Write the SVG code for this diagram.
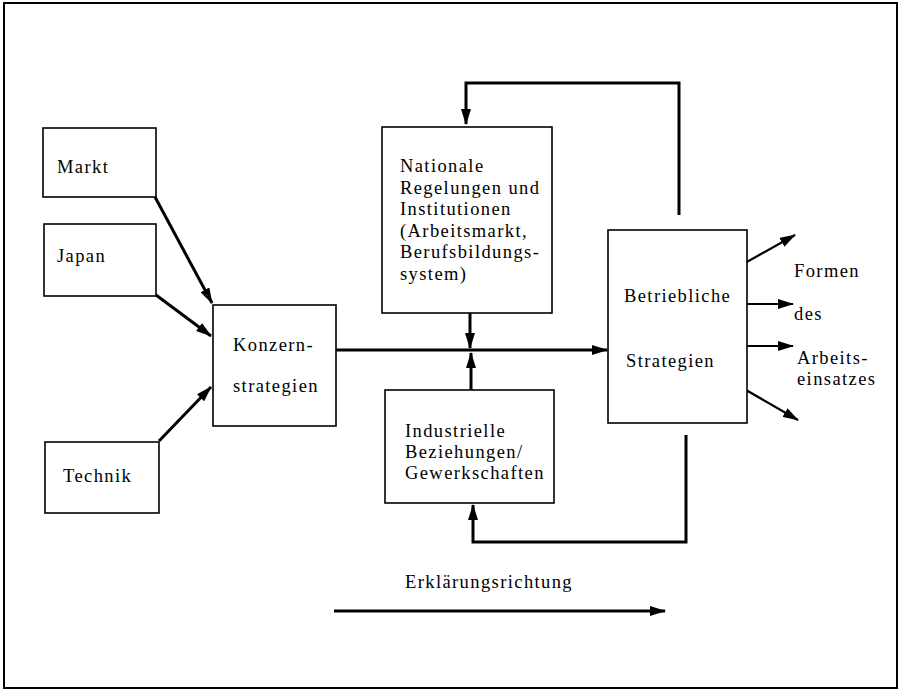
<svg xmlns="http://www.w3.org/2000/svg" width="899" height="691" viewBox="0 0 899 691">
<defs>
<marker id="ah" markerWidth="16" markerHeight="10" refX="15" refY="5" orient="auto" markerUnits="userSpaceOnUse">
<path d="M0,0 L16,5 L0,10 Z" fill="#000"/>
</marker>
<style>
.box{fill:#fff;stroke:#000;stroke-width:1.6}
.t{font-family:"Liberation Serif","Times New Roman",serif;font-size:18.5px;letter-spacing:1.4px;fill:#000}
.c{fill:none;stroke:#000;stroke-width:3}
.o{fill:none;stroke:#000;stroke-width:2.2}
</style>
</defs>
<rect x="0" y="0" width="899" height="691" fill="#fff"/>
<rect x="4" y="3" width="893" height="685" fill="none" stroke="#000" stroke-width="2"/>

<g id="connectors">
<line class="c" x1="155" y1="197" x2="212" y2="303" marker-end="url(#ah)"/>
<line class="c" x1="156" y1="295" x2="211" y2="336" marker-end="url(#ah)"/>
<line class="c" x1="159" y1="441" x2="211" y2="387" marker-end="url(#ah)"/>
<line class="c" x1="336" y1="350" x2="607" y2="350" marker-end="url(#ah)"/>
<line class="c" x1="470" y1="313" x2="470" y2="348" marker-end="url(#ah)"/>
<line class="c" x1="471" y1="390" x2="471" y2="353" marker-end="url(#ah)"/>
<polyline class="c" points="679,215 679,83 466,83 466,124" marker-end="url(#ah)"/>
<polyline class="c" points="686,435 686,542 473,542 473,505" marker-end="url(#ah)"/>
<line class="o" x1="745" y1="263" x2="795" y2="235" marker-end="url(#ah)"/>
<line class="o" x1="747" y1="304" x2="793" y2="304" marker-end="url(#ah)"/>
<line class="o" x1="747" y1="346" x2="793" y2="346" marker-end="url(#ah)"/>
<line class="o" x1="746" y1="390" x2="798" y2="420" marker-end="url(#ah)"/>
<line class="c" x1="334" y1="611" x2="665" y2="611" marker-end="url(#ah)"/>
</g>

<g id="markt">
<rect class="box" x="43" y="128" width="113" height="69"/>
<text class="t" x="57" y="173">Markt</text>
</g>
<g id="japan">
<rect class="box" x="44" y="224" width="112" height="72"/>
<text class="t" x="57" y="262">Japan</text>
</g>
<g id="technik">
<rect class="box" x="45" y="442" width="114" height="71"/>
<text class="t" x="63" y="482">Technik</text>
</g>
<g id="konzern">
<rect class="box" x="213" y="305" width="123" height="121"/>
<text class="t" x="233" y="351">Konzern-</text>
<text class="t" x="233" y="392">strategien</text>
</g>
<g id="nationale">
<rect class="box" x="382" y="127" width="170" height="186"/>
<text class="t" x="400" y="172">Nationale</text>
<text class="t" x="400" y="193.5">Regelungen und</text>
<text class="t" x="400" y="215">Institutionen</text>
<text class="t" x="400" y="236.5">(Arbeitsmarkt,</text>
<text class="t" x="400" y="258">Berufsbildungs-</text>
<text class="t" x="400" y="279.5">system)</text>
</g>
<g id="industrielle">
<rect class="box" x="385" y="390" width="169" height="113"/>
<text class="t" x="405" y="437">Industrielle</text>
<text class="t" x="405" y="458">Beziehungen/</text>
<text class="t" x="405" y="479">Gewerkschaften</text>
</g>
<g id="betriebliche">
<rect class="box" x="608" y="230" width="139" height="193"/>
<text class="t" x="624" y="302">Betriebliche</text>
<text class="t" x="626" y="367">Strategien</text>
</g>
<g id="formen">
<text class="t" x="794" y="277">Formen</text>
<text class="t" x="794" y="320">des</text>
<text class="t" x="797" y="364">Arbeits-</text>
<text class="t" x="797" y="385">einsatzes</text>
</g>
<g id="erklaerung">
<text class="t" x="405" y="588">Erklärungsrichtung</text>
</g>
</svg>
